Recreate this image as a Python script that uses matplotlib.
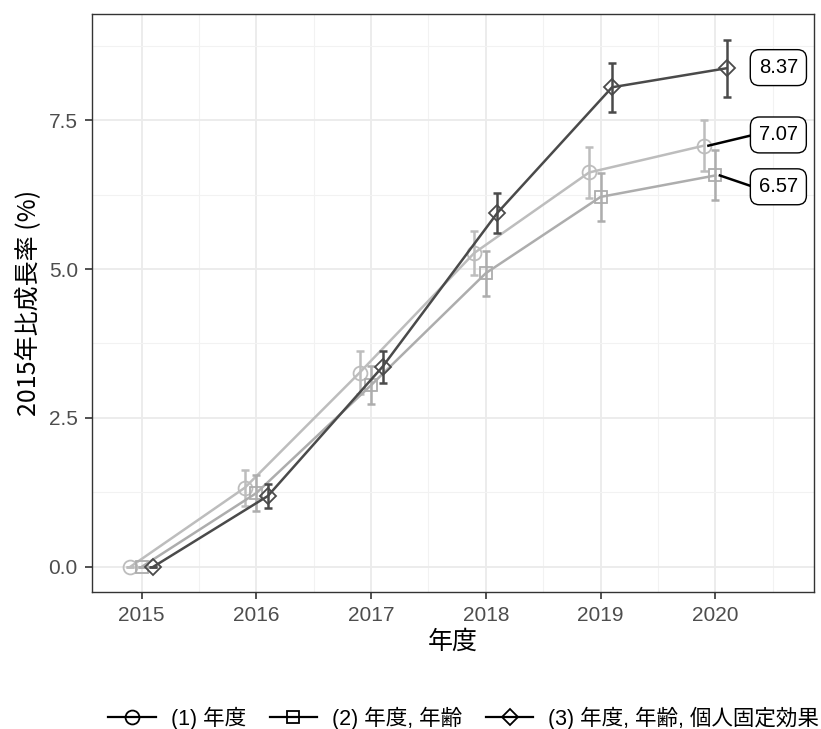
import matplotlib.pyplot as plt
import numpy as np

plt.rcParams['font.family'] = ['Liberation Sans', 'Noto Sans CJK JP', 'DejaVu Sans']

# datos
anios = [2015, 2016, 2017, 2018, 2019, 2020]
etiquetas = ['(1) 年度', '(2) 年度, 年齢', '(3) 年度, 年齢, 個人固定効果']
valores = [
    [0.0, 1.33, 3.26, 5.27, 6.62, 7.07],
    [0.0, 1.24, 3.05, 4.93, 6.21, 6.57],
    [0.0, 1.19, 3.36, 5.94, 8.05, 8.37],
]
errores = [
    [0.0, 0.30, 0.36, 0.37, 0.42, 0.43],
    [0.0, 0.30, 0.32, 0.38, 0.40, 0.42],
    [0.0, 0.20, 0.27, 0.33, 0.41, 0.48],
]
textos_fin = ['7.07', '6.57', '8.37']
pos_texto = [7.25, 6.38, 8.38]

colores = ['#BDBDBD', '#ADADAD', '#4A4A4A']
marcadores = ['o', 's', 'D']
tam_marca = [10, 8.5, 8.5]
desplaz = [-0.1, 0.0, 0.1]

fig = plt.figure(figsize=(8.21, 7.29), dpi=100)
ax = fig.add_axes([0.1117, 0.188, 0.8797, 0.7928])

x = np.array(anios, dtype=float)
handles = []
for i in range(3):
    xi = x + desplaz[i]
    ax.errorbar(xi, valores[i], yerr=errores[i], fmt='none', ecolor=colores[i],
                elinewidth=1.8, capsize=3, capthick=1.8, zorder=3 + i)
    ax.plot(xi, valores[i], color=colores[i], lw=1.8, marker=marcadores[i],
            ms=tam_marca[i], mfc='none', mec=colores[i], mew=1.3, zorder=3 + i)
    h, = ax.plot([], [], color='black', lw=1.6, marker=marcadores[i],
                 ms=tam_marca[i], mfc='none', mec='black', mew=1.3)
    handles.append(h)

# etiquetas finales con recuadro
xl = 2020.55
for i in range(3):
    xp = x[-1] + desplaz[i]
    yp = valores[i][-1]
    yl = pos_texto[i]
    if i != 2:
        ax.plot([xp + 0.04, xl - 0.22], [yp, yl], color='black', lw=1.8, zorder=6)
    ax.text(xl, yl, textos_fin[i], ha='center', va='center', fontsize=14.5,
            color='black', zorder=8,
            bbox=dict(boxstyle='round,pad=0.42,rounding_size=0.45', fc='white',
                      ec='black', lw=1.0))

ax.set_xticks(anios)
ax.set_xticks(np.arange(2014.5, 2021, 1.0), minor=True)
ax.set_yticks([0.0, 2.5, 5.0, 7.5])
ax.set_yticklabels(['0.0', '2.5', '5.0', '7.5'])
ax.set_yticks([1.25, 3.75, 6.25, 8.75], minor=True)
ax.set_xlim(2014.565, 2020.86)
ax.set_ylim(-0.42, 9.28)
ax.grid(which='major', color='#EBEBEB', lw=1.3, zorder=0)
ax.grid(which='minor', color='#F2F2F2', lw=0.8, zorder=0)
ax.set_axisbelow(True)
for s in ax.spines.values():
    s.set_color('#333333')
    s.set_linewidth(1.0)
ax.tick_params(which='major', length=5, width=1.2, color='#333333',
               labelcolor='#4D4D4D', labelsize=15, pad=5)
ax.tick_params(which='minor', length=0)

ax.set_xlabel('年度', fontsize=18, family=['Noto Sans CJK JP', 'DejaVu Sans'], labelpad=3)
ax.set_ylabel('2015年比成長率 (%)', fontsize=18, family=['Noto Sans CJK JP', 'DejaVu Sans'],
              labelpad=5)

fig.legend(handles, etiquetas, loc='center', bbox_to_anchor=(0.565, 0.015),
           ncol=3, frameon=False, handlelength=2.2, columnspacing=1.1,
           handletextpad=0.7,
           prop={'family': ['Liberation Sans', 'Noto Sans CJK JP', 'DejaVu Sans'], 'size': 15.5})

fig.savefig('out.png', dpi=100)
